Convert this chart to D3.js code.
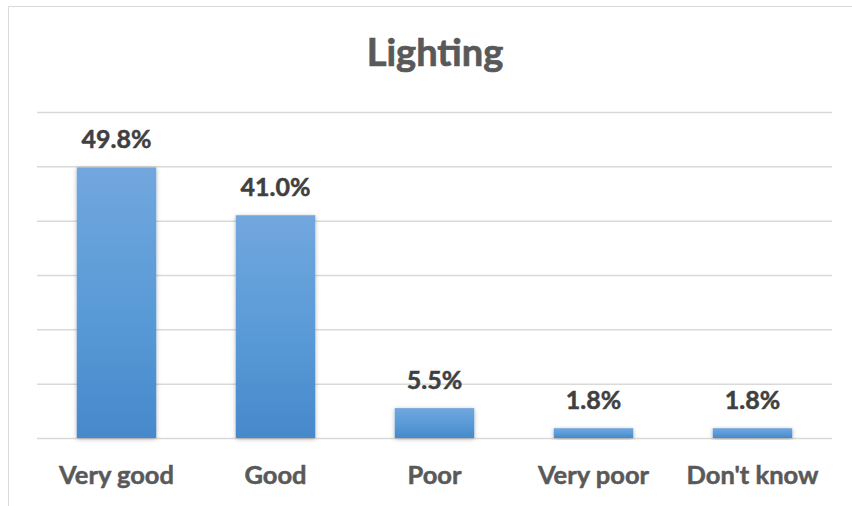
<!DOCTYPE html>
<html>
<head>
<meta charset="utf-8">
<script src="https://cdn.jsdelivr.net/npm/d3@7"></script>
<style>
    body { margin: 0; background: #fff; }
    svg { display: block; }
    text { font-family: Lato, "Open Sans", sans-serif; font-weight: 700; }
</style>
</head>
<body>
<div id="chart"></div>
<script>
// DATA
const categories = ["Very good", "Good", "Poor", "Very poor", "Don't know"];
const values = [49.8, 41.0, 5.5, 1.8, 1.8];
const ticks = [0, 10, 20, 30, 40, 50, 60];
const title = "Lighting";

function render() {
    const width = 852;
    const height = 506;
    const margin = { top: 112, right: 20, bottom: 68, left: 37 };

    const svg = d3.select('#chart').append('svg')
        .attr('width', width)
        .attr('height', height);

    const defs = svg.append('defs');

    const grad = defs.append('linearGradient')
        .attr('id', 'barGrad')
        .attr('x1', 0).attr('y1', 0)
        .attr('x2', 0).attr('y2', 1);
    grad.append('stop').attr('offset', '0%').attr('stop-color', '#71a7dd');
    grad.append('stop').attr('offset', '50%').attr('stop-color', '#5b9bd8');
    grad.append('stop').attr('offset', '100%').attr('stop-color', '#4689cb');

    const shadow = defs.append('filter')
        .attr('id', 'shadow')
        .attr('x', '-20%').attr('y', '-20%')
        .attr('width', '140%').attr('height', '140%');
    shadow.append('feDropShadow')
        .attr('dx', 0).attr('dy', 1)
        .attr('stdDeviation', 2)
        .attr('flood-color', '#000')
        .attr('flood-opacity', 0.3);

    // chart frame (left and top edges visible)
    svg.append('path')
        .attr('d', `M8.5 ${height} V6.5 H${width}`)
        .attr('fill', 'none')
        .attr('stroke', '#d9d9d9')
        .attr('stroke-width', 1);

    const x = d3.scaleBand()
        .domain(categories)
        .range([margin.left, width - margin.right])
        .paddingInner(0.5)
        .paddingOuter(0.25);

    const y = d3.scaleLinear()
        .domain([0, 60])
        .range([height - margin.bottom, margin.top]);

    // gridlines
    const grid = svg.append('g')
        .attr('transform', `translate(${margin.left},0)`)
        .call(d3.axisLeft(y)
            .tickValues(ticks)
            .tickSize(-(width - margin.right - margin.left))
            .tickFormat(''));
    grid.select('.domain').remove();
    grid.selectAll('line')
        .attr('stroke', '#d9d9d9')
        .attr('stroke-width', 1.5);

    // bars
    svg.append('g').selectAll('rect')
        .data(values)
        .enter().append('rect')
        .attr('x', (d, i) => x(categories[i]))
        .attr('y', d => y(d))
        .attr('width', x.bandwidth())
        .attr('height', d => y(0) - y(d))
        .attr('fill', 'url(#barGrad)')
        .attr('filter', 'url(#shadow)');

    // value labels
    svg.append('g').selectAll('text')
        .data(values)
        .enter().append('text')
        .attr('x', (d, i) => x(categories[i]) + x.bandwidth() / 2)
        .attr('y', d => y(d) - 19)
        .attr('text-anchor', 'middle')
        .attr('fill', '#404040')
        .attr('stroke', '#404040')
        .attr('stroke-width', 0.5)
        .style('font-size', '25px')
        .text(d => d.toFixed(1) + '%');

    // category axis
    const xAxis = svg.append('g')
        .attr('transform', `translate(0,${y(0)})`)
        .call(d3.axisBottom(x).tickSize(0).tickPadding(0));
    xAxis.select('.domain').remove();
    xAxis.selectAll('text')
        .attr('dy', null)
        .attr('y', 46)
        .attr('fill', '#595959')
        .attr('stroke', '#595959')
        .attr('stroke-width', 0.5)
        .style('font-size', '25.5px')
        .style('font-family', 'Lato, "Open Sans", sans-serif');

    // title
    svg.append('text')
        .attr('x', 435)
        .attr('y', 66)
        .attr('text-anchor', 'middle')
        .attr('fill', '#595959')
        .attr('stroke', '#595959')
        .attr('stroke-width', 0.7)
        .style('font-size', '38px')
        .text(title);
}

window.onload = render;
</script>
</body>
</html>
